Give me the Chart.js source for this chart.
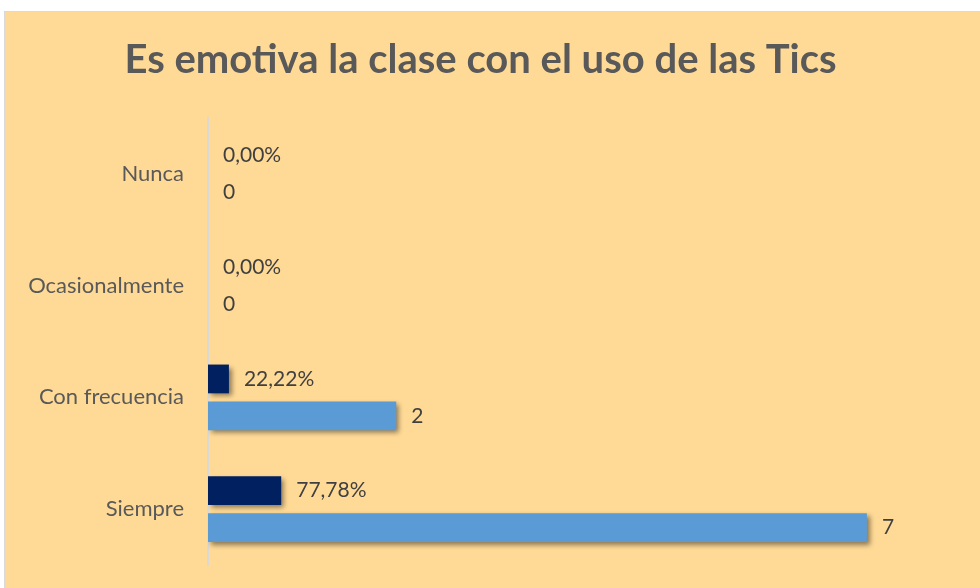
<!DOCTYPE html>
<html>
<head>
<meta charset="utf-8">
<script src="https://cdn.jsdelivr.net/npm/chart.js@4"></script>
<style>
  html, body { margin: 0; padding: 0; background: #fff; }
  #fondo {
    position: absolute; left: 4px; top: 11px; width: 990px; height: 600px;
    background: #FFDA96; border: 1px solid #D9D9D9; box-sizing: border-box;
  }
  #wrap { position: absolute; left: 0; top: 0; width: 980px; height: 588px; }
</style>
</head>
<body>
<div id="fondo"></div>
<div id="wrap"><canvas id="myChart" width="980" height="588"></canvas></div>
<script>
"use strict";
// datos del grafico
const categorias = ["Nunca", "Ocasionalmente", "Con frecuencia", "Siempre"];
const porcentajes = [0, 0, 0.2222, 0.7778];
const cantidades = [0, 0, 2, 7];
const titulo = "Es emotiva la clase con el uso de las Tics";

// sombra de las barras
const sombra = {
  id: "sombra",
  beforeDatasetsDraw(chart) {
    const ctx = chart.ctx;
    ctx.save();
    ctx.shadowColor = "rgba(0,0,0,0.45)";
    ctx.shadowBlur = 5;
    ctx.shadowOffsetX = 3;
    ctx.shadowOffsetY = 3;
  },
  afterDatasetsDraw(chart) {
    chart.ctx.restore();
  }
};

// etiquetas al final de cada barra
const etiquetas = {
  id: "etiquetas",
  afterDatasetsDraw(chart) {
    const ctx = chart.ctx;
    ctx.save();
    ctx.font = "21px Lato";
    ctx.fillStyle = "#404040";
    ctx.textAlign = "left";
    ctx.textBaseline = "middle";
    chart.data.datasets.forEach((ds, i) => {
      chart.getDatasetMeta(i).data.forEach((bar, j) => {
        let txt;
        if (i === 0) {
          txt = (ds.data[j] * 100).toFixed(2).replace(".", ",") + "%";
        } else {
          txt = String(ds.data[j]);
        }
        ctx.fillText(txt, bar.x + 15, bar.y);
      });
    });
    ctx.restore();
  }
};

const ctx = document.getElementById("myChart").getContext("2d");
const config = {
  type: "bar",
  data: {
    labels: categorias,
    datasets: [
      {
        label: "Porcentaje",
        data: porcentajes,
        backgroundColor: "#002060",
        categoryPercentage: 0.66,
        barPercentage: 0.78
      },
      {
        label: "Cantidad",
        data: cantidades,
        backgroundColor: "#5B9BD5",
        categoryPercentage: 0.66,
        barPercentage: 0.78
      }
    ]
  },
  options: {
    responsive: false,
    animation: false,
    indexAxis: "y",
    layout: { padding: { left: 0, right: 19, top: 0, bottom: 23 } },
    plugins: {
      legend: { display: false },
      tooltip: { enabled: false },
      title: {
        display: true,
        text: titulo,
        color: "#595959",
        font: { family: "Lato", size: 40, weight: "bold" },
        padding: { top: 36, bottom: 34 }
      }
    },
    scales: {
      x: {
        display: false,
        min: 0,
        max: 8
      },
      y: {
        afterFit: (s) => { s.width = 208; s.paddingTop = 0; s.paddingBottom = 0; },
        grid: { display: false, drawTicks: false },
        border: { display: true, color: "#D9D9D9", width: 2 },
        ticks: {
          color: "#595959",
          font: { family: "Lato", size: 22 },
          padding: 24
        }
      }
    }
  },
  plugins: [sombra, etiquetas]
};
let myChart = new Chart(ctx, config);
</script>
</body>
</html>
